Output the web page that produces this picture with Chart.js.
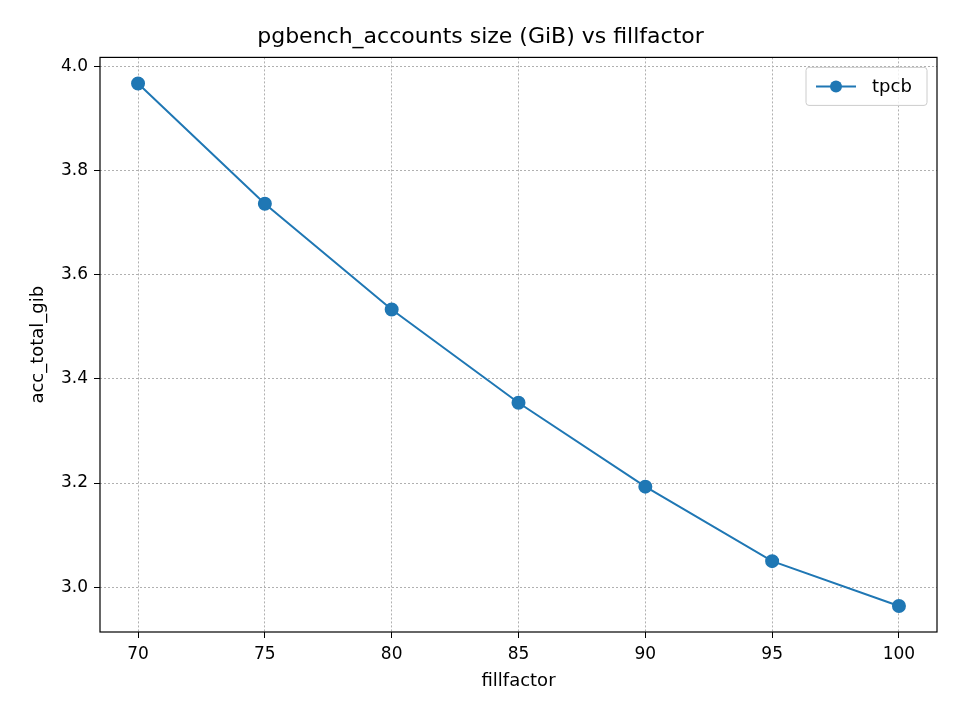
<!DOCTYPE html>
<html><head><meta charset="utf-8">
<script src="https://cdn.jsdelivr.net/npm/chart.js@4"></script>
<style>html,body{margin:0;padding:0;background:#fff}#w{width:960px;height:720px}</style>
</head><body><div id="w"><canvas id="c"></canvas></div>
<script>
const fillfactor = [70, 75, 80, 85, 90, 95, 100];
const accTotalGib = [3.967, 3.736, 3.533, 3.354, 3.193, 3.050, 2.964];
const xTicks = [70, 75, 80, 85, 90, 95, 100];
const yTicks = [3.0, 3.2, 3.4, 3.6, 3.8, 4.0];
const seriesName = 'tpcb';
const color = '#1f77b4';
const F = 'DejaVu Sans';

const frame = {
  id: 'frame',
  afterDraw(ch) {
    const a = ch.chartArea, c = ch.ctx;
    c.save();
    c.strokeStyle = '#000'; c.lineWidth = 1.2;
    c.strokeRect(a.left, a.top, a.right - a.left, a.bottom - a.top);
    const bw = 121, bh = 38, bx = a.right - 10 - bw, by = a.top + 10;
    c.fillStyle = 'rgba(255,255,255,0.8)';
    c.strokeStyle = '#ccc'; c.lineWidth = 1;
    c.beginPath(); c.roundRect(bx, by, bw, bh, 3); c.fill(); c.stroke();
    const ly = by + bh / 2;
    c.strokeStyle = color; c.lineWidth = 2;
    c.beginPath(); c.moveTo(bx + 10, ly); c.lineTo(bx + 50, ly); c.stroke();
    c.fillStyle = color; c.beginPath(); c.arc(bx + 30, ly, 6, 0, Math.PI * 2); c.fill();
    c.fillStyle = '#000'; c.font = '18px "' + F + '"'; c.textBaseline = 'middle';
    c.fillText(seriesName, bx + 66, ly + 1);
    c.restore();
  }
};

new Chart(document.getElementById('c'), {
  type: 'line',
  data: { datasets: [{ label: seriesName, data: fillfactor.map((x, i) => ({ x, y: accTotalGib[i] })),
    borderColor: color, backgroundColor: color, borderWidth: 2, pointRadius: 6, pointHoverRadius: 6 }] },
  options: {
    responsive: true, maintainAspectRatio: false, animation: false,
    layout: { padding: { left: 24, right: 23, top: 0, bottom: 24 } },
    plugins: {
      legend: { display: false }, tooltip: { enabled: false },
      title: { display: true, text: 'pgbench_accounts size (GiB) vs fillfactor', color: '#000',
        font: { family: F, size: 22, weight: 'normal' }, padding: { top: 24, bottom: 7 } }
    },
    scales: {
      x: { type: 'linear', min: 68.5, max: 101.5,
        afterBuildTicks: s => { s.ticks = xTicks.map(v => ({ value: v })); },
        afterFit: s => { s.height = 64; },
        grid: { color: '#b0b0b0', lineWidth: 1, drawTicks: true, tickLength: 6, tickColor: '#000' },
        border: { display: false, dash: [2, 2] },
        ticks: { color: '#000', font: { family: F, size: 17 }, padding: 6 },
        title: { display: true, text: 'fillfactor', color: '#000', font: { family: F, size: 18 }, padding: { top: 4 } } },
      y: { type: 'linear', min: 2.914, max: 4.017,
        afterBuildTicks: s => { s.ticks = yTicks.map(v => ({ value: v })); },
        afterFit: s => { s.width = 76; },
        grid: { color: '#b0b0b0', lineWidth: 1, tickLength: 6, tickColor: '#000' },
        border: { display: false, dash: [2, 2] },
        ticks: { color: '#000', font: { family: F, size: 17 }, padding: 6, callback: v => v.toFixed(1) },
        title: { display: true, text: 'acc_total_gib', color: '#000', font: { family: F, size: 18 }, padding: { bottom: 6 } } }
    }
  },
  plugins: [frame]
});
</script></body></html>
